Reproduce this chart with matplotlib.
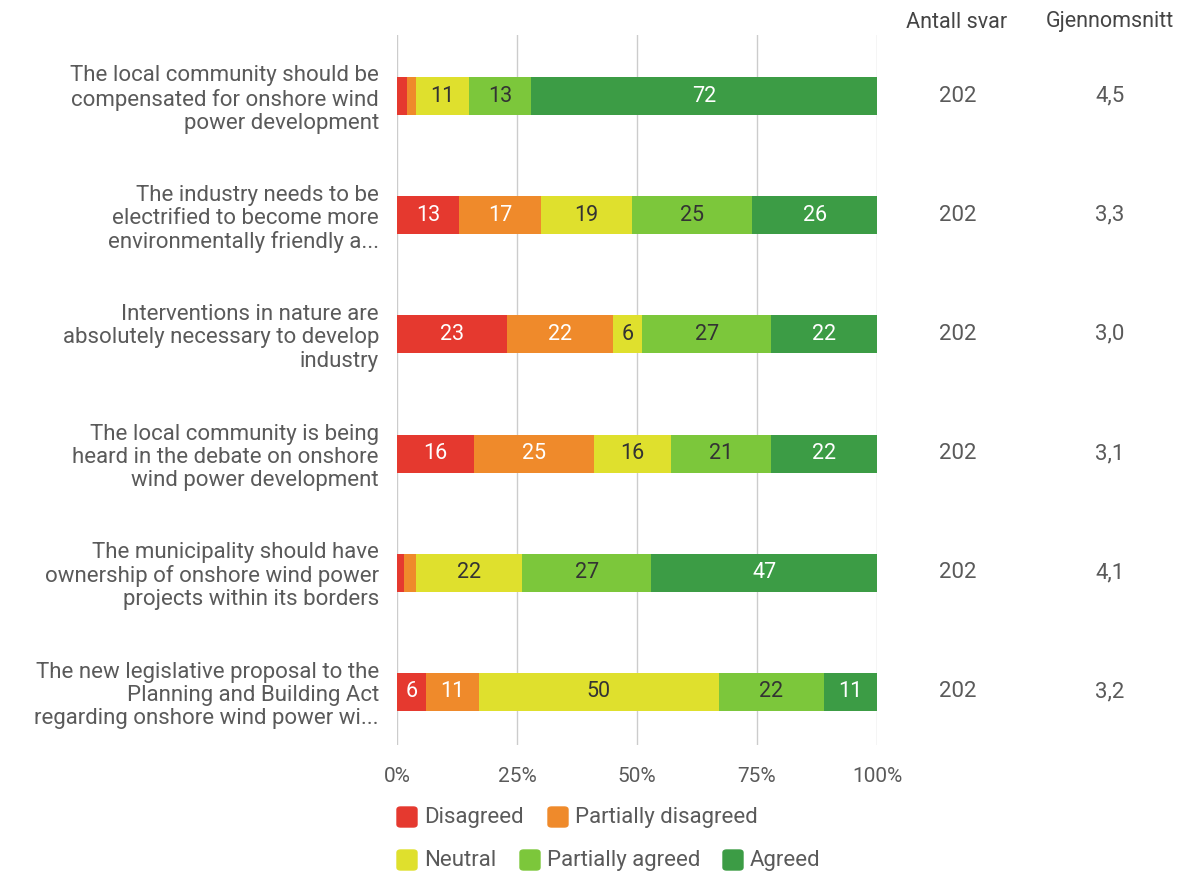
import numpy as np
import matplotlib.pyplot as plt
from matplotlib.patches import FancyBboxPatch

plt.rcParams['font.family'] = ['Roboto', 'DejaVu Sans']

statements = [
    'The local community should be\ncompensated for onshore wind\npower development',
    'The industry needs to be\nelectrified to become more\nenvironmentally friendly a...',
    'Interventions in nature are\nabsolutely necessary to develop\nindustry',
    'The local community is being\nheard in the debate on onshore\nwind power development',
    'The municipality should have\nownership of onshore wind power\nprojects within its borders',
    'The new legislative proposal to the\nPlanning and Building Act\nregarding onshore wind power wi...',
]
categories = ['Disagreed', 'Partially disagreed', 'Neutral', 'Partially agreed', 'Agreed']
disagreed = [2, 13, 23, 16, 1.5, 6]
part_disagreed = [2, 17, 22, 25, 2.5, 11]
neutral = [11, 19, 6, 16, 22, 50]
part_agreed = [13, 25, 27, 21, 27, 22]
agreed = [72, 26, 22, 22, 47, 11]
antall_svar = [202, 202, 202, 202, 202, 202]
snitt = ['4,5', '3,3', '3,0', '3,1', '4,1', '3,2']

colors = ['#e5392f', '#ef8a2b', '#dfe02d', '#7cc73b', '#3c9c45']
label_colors = ['white', 'white', '#333333', '#333333', 'white']
text_grey = '#5a5a5a'

fig = plt.figure(figsize=(11.88, 8.72), dpi=100)
ax = fig.add_axes([397 / 1188, 1 - 745 / 872, 480 / 1188, 710 / 872])

series = [disagreed, part_disagreed, neutral, part_agreed, agreed]
y = np.arange(len(statements))
left = np.zeros(len(statements))
for vals, col, lc in zip(series, colors, label_colors):
    vals = np.array(vals, dtype=float)
    ax.barh(y, vals, left=left, height=0.32, color=col, zorder=3)
    for yi, (l, v) in enumerate(zip(left, vals)):
        if v >= 5:
            ax.text(l + v / 2, yi, f'{v:.0f}', ha='center', va='center',
                    fontsize=15.5, color=lc, zorder=4)
    left += vals

ax.set_xlim(0, 100)
ax.set_ylim(5.445, -0.512)
ax.set_xticks([0, 25, 50, 75, 100])
ax.set_xticklabels(['0%', '25%', '50%', '75%', '100%'])
ax.tick_params(axis='x', length=0, labelsize=15, labelcolor=text_grey, pad=16)
ax.set_yticks(y)
ax.set_yticklabels(statements, fontsize=16, color=text_grey, linespacing=1.13)
ax.tick_params(axis='y', length=0, pad=13)
for t in ax.get_yticklabels():
    t.set_multialignment('right')
ax.grid(axis='x', color='#cccccc', linewidth=1, zorder=0)
for s in ax.spines.values():
    s.set_visible(False)

# right-hand columns
fig.text(957 / 1188, 1 - 22 / 872, 'Antall svar', ha='center', va='center',
         fontsize=15.5, color='#444444')
fig.text(1110 / 1188, 1 - 22 / 872, 'Gjennomsnitt', ha='center', va='center',
         fontsize=15.5, color='#444444')
for yi in y:
    ax.text(1.0 + (958 - 877) / 480, yi, str(antall_svar[yi]), transform=ax.get_yaxis_transform(),
            ha='center', va='center', fontsize=16, color=text_grey)
    ax.text(1.0 + (1110 - 877) / 480, yi, snitt[yi], transform=ax.get_yaxis_transform(),
            ha='center', va='center', fontsize=16, color=text_grey)

# legend
legend_pos = [(397, 817), (548, 817), (397, 860), (520, 860), (723, 860)]
for (px, py), col, name in zip(legend_pos, colors, categories):
    fig.patches.append(FancyBboxPatch((px / 1188, 1 - (py + 10) / 872), 20 / 1188, 20 / 872,
                                      boxstyle='round,pad=0,rounding_size=0.003',
                                      transform=fig.transFigure, color=col))
    fig.text((px + 27) / 1188, 1 - py / 872, name, ha='left', va='center',
             fontsize=16, color=text_grey)

fig.savefig('out.png', dpi=100)
